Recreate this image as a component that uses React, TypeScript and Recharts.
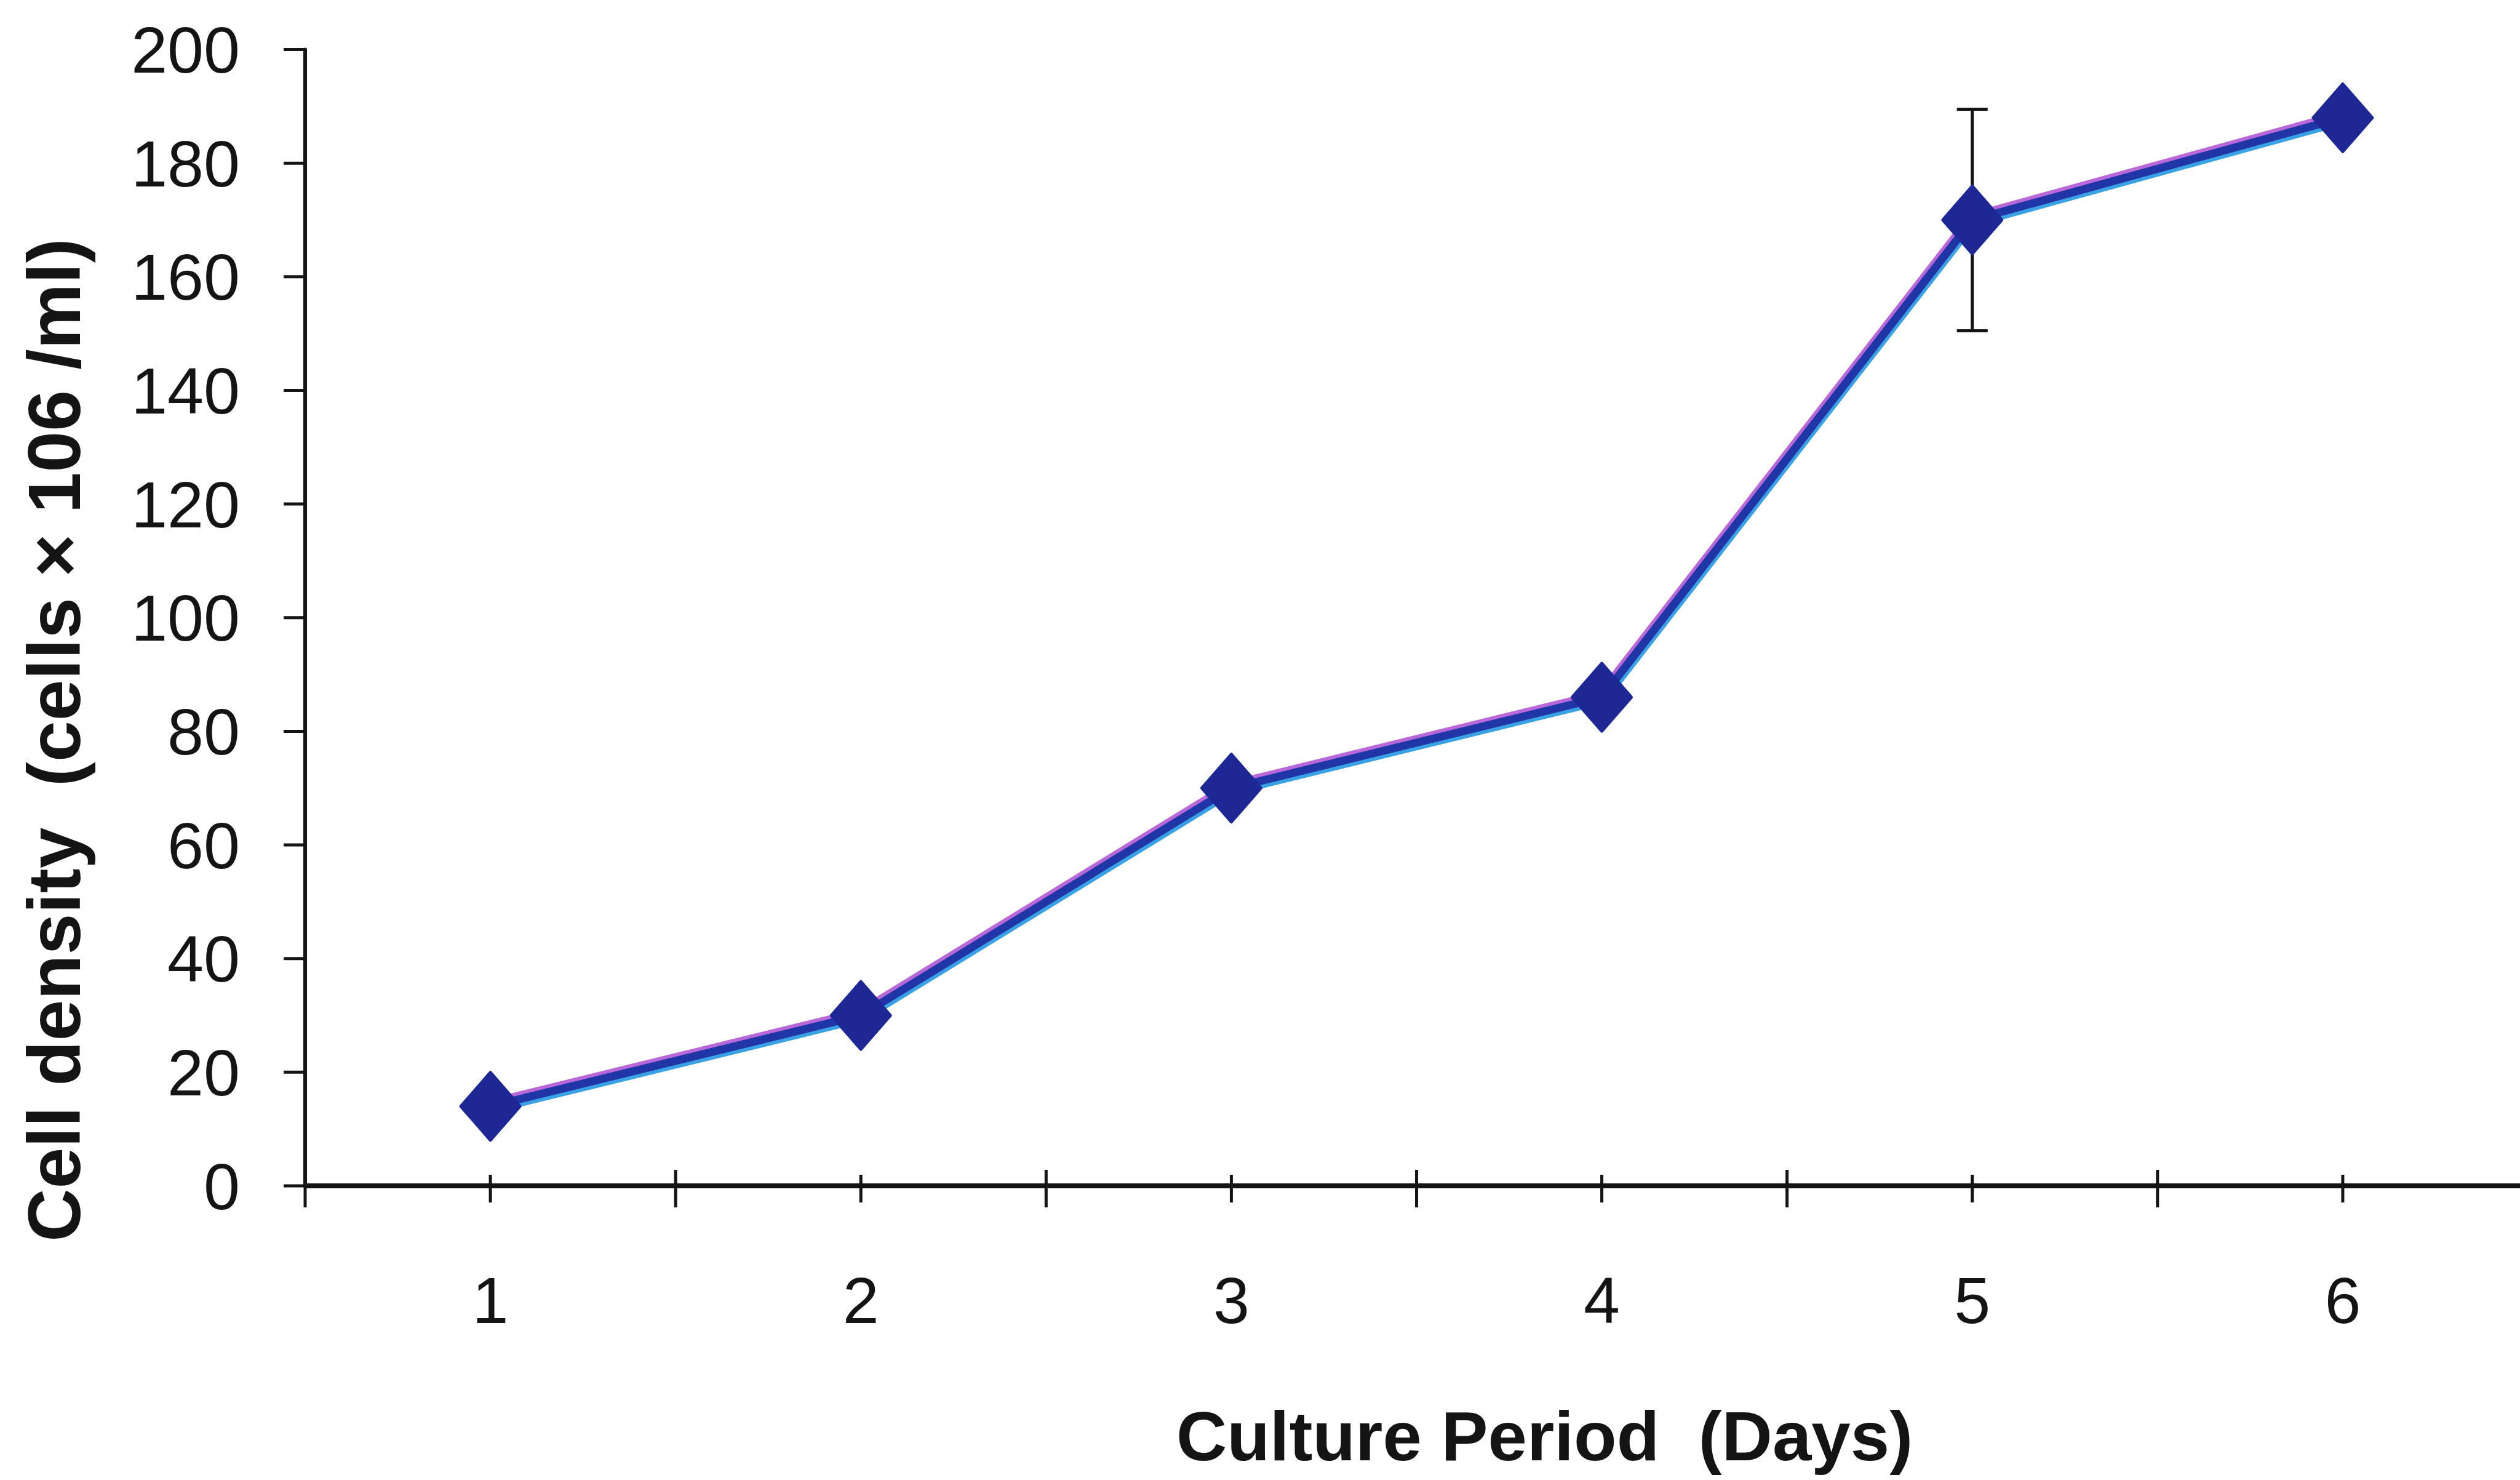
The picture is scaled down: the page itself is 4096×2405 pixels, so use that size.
import React from 'react';
import { LineChart, Line, XAxis, YAxis, ErrorBar } from 'recharts';

const days = [1, 2, 3, 4, 5, 6];
const cellDensity = [14, 30, 70, 86, 170, 188];
const errorValues: (number | null)[] = [null, null, null, null, 19.5, null];
const yTicks = [0, 20, 40, 60, 80, 100, 120, 140, 160, 180, 200];
const xTicks = [0.5, 1, 1.5, 2, 2.5, 3, 3.5, 4, 4.5, 5, 5.5, 6, 6.5];
const xAxisTitle = 'Culture Period  (Days)';
const yAxisTitle = 'Cell density  (cells \u00d7 106 /ml)';

const data = days.map((d, i) => ({ day: d, density: cellDensity[i], err: errorValues[i] }));

const FONT = '"Liberation Sans", Arial, Helvetica, sans-serif';
const INK = '#141414';

const XTick = (props: any) => {
  const { x, y, payload } = props;
  const v = payload.value;
  const isInt = Number.isInteger(v);
  const up = isInt ? 18 : 26;
  const down = isInt ? 27 : 35;
  return (
    <g>
      <line x1={x} x2={x} y1={y - up} y2={y + down} stroke={INK} strokeWidth={5} />
      {isInt && (
        <text x={x} y={y + 223} textAnchor="middle" fontSize={106} fontFamily={FONT} fill={INK}>
          {v}
        </text>
      )}
    </g>
  );
};

const Diamond = (props: any) => {
  const { cx, cy, index } = props;
  if (cx == null || cy == null) return <g key={`d-${index}`} />;
  const w = 48;
  const h = 55;
  return (
    <polygon
      key={`d-${index}`}
      points={`${cx},${cy - h} ${cx + w},${cy} ${cx},${cy + h} ${cx - w},${cy}`}
      fill="#1d2894"
      stroke="#1d2894"
      strokeWidth={5}
      strokeLinejoin="round"
    />
  );
};

const XLabel = (props: any) => {
  const vb = props.viewBox || { x: 497, y: 1927, width: 3612, height: 478 };
  const cx = vb.x + vb.width / 2 + 208;
  const by = vb.y + 446;
  return (
    <text x={cx} y={by} textAnchor="middle" fontSize={114} fontWeight="bold" fontFamily={FONT} fill={INK} style={{ whiteSpace: 'pre' }} xmlSpace="preserve">
      {xAxisTitle}
    </text>
  );
};

const YLabel = (props: any) => {
  const vb = props.viewBox || { x: 0, y: 80.5, width: 496, height: 1846.5 };
  const cx = vb.x + 129.5;
  const cy = vb.y + vb.height / 2 + 199;
  return (
    <text
      x={cx}
      y={cy}
      transform={`rotate(-90, ${cx}, ${cy})`}
      textAnchor="middle"
      fontSize={120}
      fontWeight="bold"
      fontFamily={FONT}
      fill={INK}
      style={{ whiteSpace: 'pre' }}
      xmlSpace="preserve"
    >
      {yAxisTitle}
    </text>
  );
};

export default function App() {
  return (
    <div style={{ position: 'absolute', left: 0, top: 0, width: 4096, height: 2405, overflow: 'hidden', background: '#ffffff' }}>
      <style>{`
        .line-magenta { transform: translate(-2px, -5px); }
        .line-cyan { transform: translate(2px, 5px); }
      `}</style>
      <LineChart
        width={4109}
        height={2405}
        data={data}
        margin={{ top: 80.5, right: 0, left: 0, bottom: 0 }}
      >
        <XAxis
          dataKey="day"
          type="number"
          domain={[0.5, 6.5]}
          ticks={xTicks}
          interval={0}
          allowDataOverflow
          height={478}
          tickSize={0}
          tickMargin={0}
          tickLine={false}
          axisLine={{ stroke: INK, strokeWidth: 8 }}
          tick={<XTick />}
          label={<XLabel />}
        />
        <YAxis
          type="number"
          domain={[0, 200]}
          ticks={yTicks}
          interval={0}
          width={496}
          tickSize={35}
          tickMargin={71}
          axisLine={{ stroke: INK, strokeWidth: 6, strokeLinecap: 'round' }}
          tickLine={{ stroke: INK, strokeWidth: 5 }}
          tick={{ fontSize: 106, fontFamily: FONT, fill: INK }}
          label={<YLabel />}
        />
        <Line
          className="line-magenta"
          dataKey="density"
          stroke="#b868d8"
          strokeWidth={14}
          dot={false}
          activeDot={false}
          isAnimationActive={false}
        />
        <Line
          className="line-cyan"
          dataKey="density"
          stroke="#3aa2e4"
          strokeWidth={14}
          dot={false}
          activeDot={false}
          isAnimationActive={false}
        />
        <Line
          dataKey="density"
          stroke="#2035a6"
          strokeWidth={13}
          dot={<Diamond />}
          activeDot={false}
          isAnimationActive={false}
        >
          <ErrorBar dataKey="err" direction="y" width={25} strokeWidth={5} stroke={INK} />
        </Line>
      </LineChart>
    </div>
  );
}
